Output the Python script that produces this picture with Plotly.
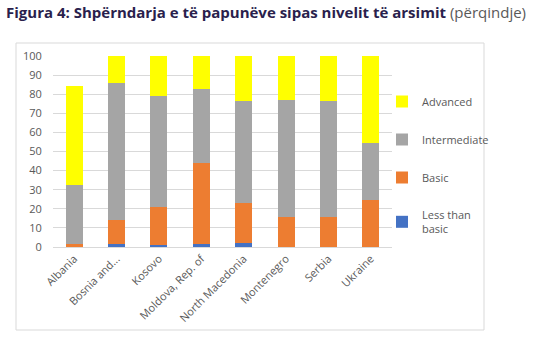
import plotly.graph_objects as go

countries = ["Albania", "Bosnia and...", "Kosovo", "Moldova, Rep. of", "North Macedonia",
             "Montenegro", "Serbia", "Ukraine"]
less_than_basic = [0.0, 1.6, 0.8, 1.6, 2.1, 0.0, 0.0, 0.0]
basic = [1.7, 12.5, 20.4, 42.6, 20.9, 15.5, 15.5, 24.7]
intermediate = [30.7, 71.9, 58.1, 38.4, 53.3, 61.3, 60.8, 29.5]
advanced = [52.0, 14.0, 20.7, 17.4, 23.7, 23.2, 23.7, 45.8]
y_ticks = [0, 10, 20, 30, 40, 50, 60, 70, 80, 90, 100]

series = [
    ("Less than<br>basic", less_than_basic, "#4472C4"),
    ("Basic", basic, "#ED7D31"),
    ("Intermediate", intermediate, "#A5A5A5"),
    ("Advanced", advanced, "#FFFF00"),
]

fig = go.Figure()
for i, (name, vals, col) in enumerate(series):
    fig.add_trace(go.Bar(x=countries, y=vals, name=name, marker=dict(color=col, line=dict(width=0)),
                         legendgroup="g%d" % i, legendrank=len(series) - i))

W, H = 535, 344
L, R, T, B = 53, 143, 56, 97
fig.update_layout(
    width=W, height=H,
    barmode="stack", bargap=0.6,
    margin=dict(l=L, r=R, t=T, b=B, pad=0),
    plot_bgcolor="white", paper_bgcolor="white",
    font=dict(family="Open Sans, Noto Sans, sans-serif", color="#595959", size=11),
    legend=dict(traceorder="grouped", tracegroupgap=19, x=(382 - L) / (W - L - R),
                xanchor="left", y=(247 - 87) / (247 - 56), yanchor="top", yref="paper",
                font=dict(size=11, color="#595959"), itemwidth=30, bgcolor="rgba(0,0,0,0)"),
    xaxis=dict(tickangle=-45, tickfont=dict(size=11, color="#595959"), showline=True,
               linecolor="#d9d9d9", linewidth=1, ticks="", fixedrange=True),
    yaxis=dict(range=[0, 100], tickvals=y_ticks, showgrid=True, gridcolor="#d9d9d9", gridwidth=1,
               zeroline=False, tickfont=dict(size=11, color="#595959"), ticks="outside",
               ticklen=8, tickcolor="white", fixedrange=True),
    annotations=[dict(
        text="<b>Figura 4: Shpërndarja e të papunëve sipas nivelit të arsimit</b> <span style='color:#595959'>(përqindje)</span>",
        xref="paper", yref="paper", x=(4 - L) / (W - L - R), y=1 + (56 - 12) / (247 - 56),
        xanchor="left", yanchor="middle", showarrow=False,
        font=dict(size=15, color="#2a1f4d", family="Open Sans, sans-serif"))],
    shapes=[dict(type="rect", xref="paper", yref="paper",
                 x0=(16 - L) / (W - L - R), x1=(484 - L) / (W - L - R),
                 y0=(247 - 330) / (247 - 56), y1=(247 - 43) / (247 - 56),
                 line=dict(color="#d9d9d9", width=1), layer="below")],
)

fig.write_html("out.html", config=dict(displayModeBar=False))
